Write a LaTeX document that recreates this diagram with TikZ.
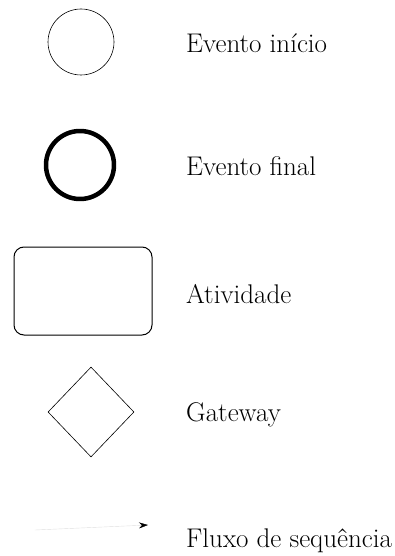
\documentclass[tikz,border=0pt]{standalone}
\usetikzlibrary{shapes.geometric,arrows.meta}
\begin{document}
\begin{tikzpicture}[x=1pt,y=-1pt,line join=round,line cap=round,font=\fontsize{27}{32}\selectfont,>=stealth]
	\useasboundingbox (0,0) rectangle (395,556);
	\tikzset{legenda/.style={anchor=west,inner sep=0pt}}
	\node[circle,draw,line width=0.6pt,minimum size=66pt,inner sep=0pt] (inicio) at (81,42) {};
	\node[circle,draw,line width=4.5pt,minimum size=68pt,inner sep=0pt] (fim) at (80,165) {};
	\node[rectangle,draw,rounded corners=10pt,line width=1pt,minimum width=138pt,minimum height=88pt] (ativ) at (83,291) {};
	\node[diamond,draw,line width=0.6pt,minimum width=86pt,minimum height=90pt,inner sep=0pt] (gw) at (91,412) {};
	\coordinate (f0) at (35,530);
	\coordinate (f1) at (148,525);
	\draw[gray!25,line width=0.4pt,-{Stealth[black,length=9pt,width=6pt]}] (f0)--(f1);
	\node[legenda] (l1) at (186,43) {Evento início};
	\node[legenda] (l2) at (186,166) {Evento final};
	\node[legenda] (l3) at (186,294) {Atividade};
	\node[legenda] (l4) at (186,415) {Gateway};
	\node[legenda] (l5) at (186,541) {Fluxo de sequência};
\end{tikzpicture}
\end{document}
